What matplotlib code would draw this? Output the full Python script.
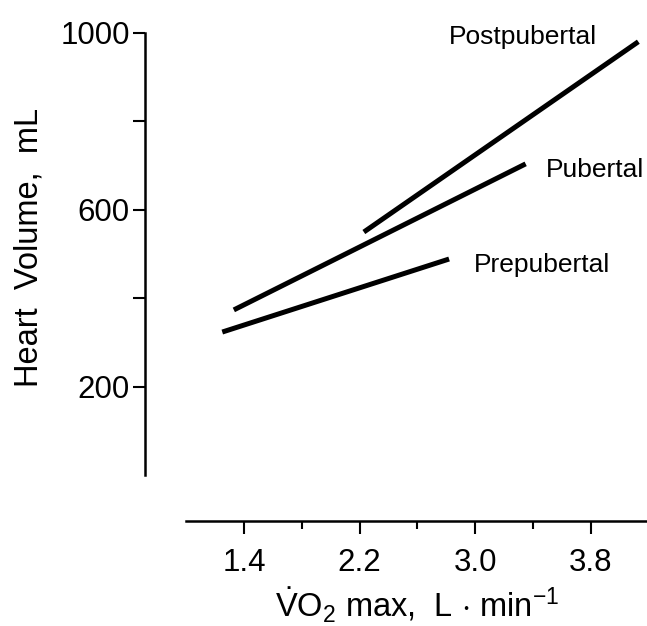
import matplotlib
matplotlib.use('Agg')
import matplotlib.pyplot as plt
from matplotlib.ticker import FixedLocator

plt.rcParams['font.family'] = ['Liberation Sans', 'DejaVu Sans']
plt.rcParams['mathtext.fontset'] = 'custom'
plt.rcParams['mathtext.rm'] = 'Liberation Sans'
plt.rcParams['mathtext.it'] = 'Liberation Sans'

# regression lines: (start, end) in VO2 max (L/min) and heart volume (mL)
groups = ['Prepubertal', 'Pubertal', 'Postpubertal']
vo2_start = [1.25, 1.33, 2.23]
vo2_end = [2.82, 3.35, 4.13]
hv_start = [324, 374, 550]
hv_end = [489, 704, 980]

# label anchors
label_x = [3.46, 3.83, 3.33]
label_y = [476, 690, 991]

x_major = [1.4, 2.2, 3.0, 3.8]
x_minor = [1.8, 2.6, 3.4]
y_major = [200, 600, 1000]
y_minor = [400, 800]

fig = plt.figure(figsize=(6.47, 6.26), dpi=100)
ax = fig.add_axes([0.2241, 0.1677, 0.7759, 0.8003])

for i in range(len(groups)):
    ax.plot([vo2_start[i], vo2_end[i]], [hv_start[i], hv_end[i]],
            color='black', lw=3.6, solid_capstyle='butt')
    ax.text(label_x[i], label_y[i], groups[i], fontsize=19,
            ha='center', va='center')

ax.set_xlim(0.715, 4.19)
ax.set_ylim(-103, 1029)

ax.spines['top'].set_visible(False)
ax.spines['right'].set_visible(False)
ax.spines['left'].set_bounds(0, 1000)
ax.spines['bottom'].set_bounds(1.0, 4.19)
for s in ['left', 'bottom']:
    ax.spines[s].set_linewidth(1.8)

ax.xaxis.set_major_locator(FixedLocator(x_major))
ax.xaxis.set_minor_locator(FixedLocator(x_minor))
ax.yaxis.set_major_locator(FixedLocator(y_major))
ax.yaxis.set_minor_locator(FixedLocator(y_minor))
ax.set_xticklabels(['%.1f' % v for v in x_major])
ax.set_yticklabels([str(v) for v in y_major])

ax.tick_params(axis='x', which='major', length=9.5, width=1.5, labelsize=22.5, pad=10)
ax.tick_params(axis='x', which='minor', length=6, width=1.5)
ax.tick_params(axis='y', which='both', length=8.5, width=1.5, labelsize=22.5, pad=2.5)

ax.set_xlabel(r'$\dot{\mathrm{V}}\mathrm{O}_2$ max,  L $\cdot$ min$^{-1}$',
              fontsize=23.5)
ax.set_ylabel('Heart  Volume,  mL', fontsize=23.5)
ax.xaxis.set_label_coords(0.542, -0.13)
ax.yaxis.set_label_coords(-0.20, 0.547)

fig.savefig('out.png', dpi=100)
